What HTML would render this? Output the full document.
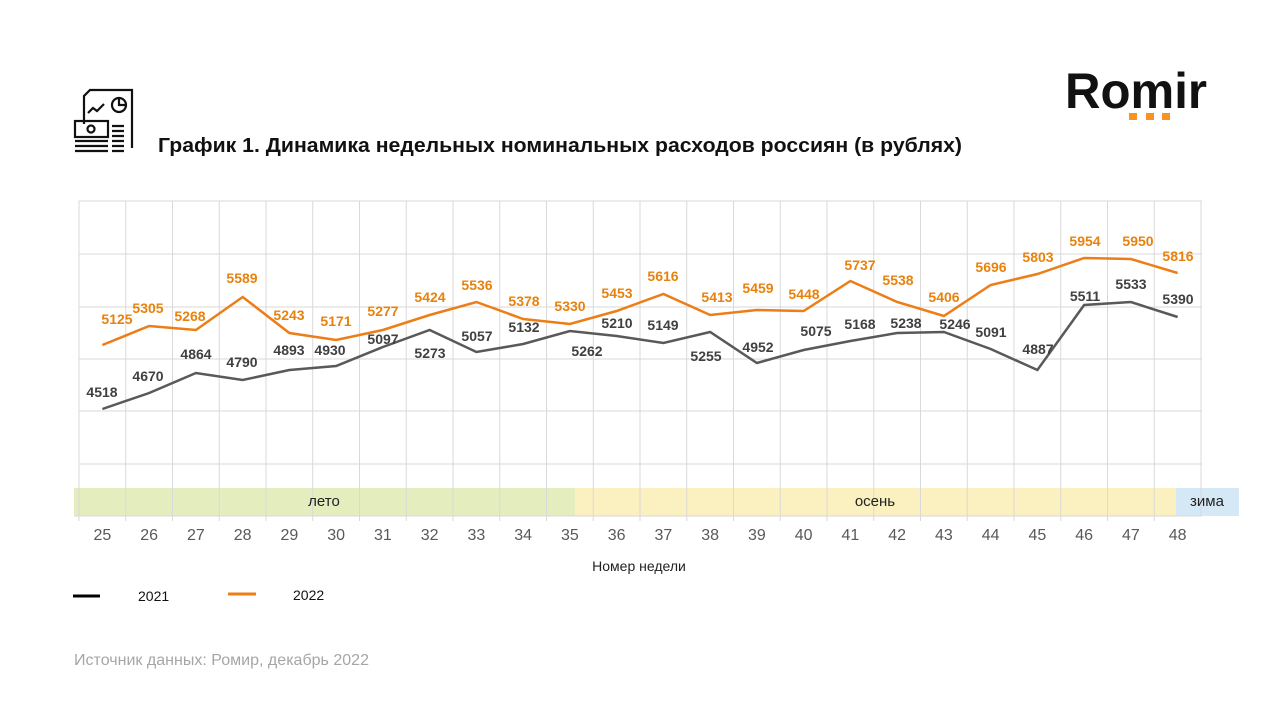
<!DOCTYPE html>
<html><head><meta charset="utf-8"><style>
body{margin:0;background:#fff;width:1280px;height:720px;overflow:hidden;font-family:"Liberation Sans",sans-serif;}
</style></head><body>
<svg width="1280" height="720" viewBox="0 0 1280 720" xmlns="http://www.w3.org/2000/svg" font-family="Liberation Sans, sans-serif">
<g fill="none" stroke="#111" stroke-width="2.2">
<path d="M84 124 V96 l6 -6 h42 v58"/>
<path d="M88 113 l5 -5 l4 3 l7 -7"/>
<circle cx="119" cy="105" r="7"/><path d="M119 98 v7 h7"/>
<rect x="75" y="121" width="33" height="16"/><circle cx="91" cy="129" r="3.5"/>
<path d="M75 141 h33 M75 146 h33 M75 151 h33"/>
<path d="M112 126 h12 M112 131 h12 M112 136 h12 M112 141 h12 M112 146 h12 M112 151 h12"/>
</g>
<text x="158" y="152" font-size="20" font-weight="bold" fill="#111" textLength="804" lengthAdjust="spacingAndGlyphs">График 1. Динамика недельных номинальных расходов россиян (в рублях)</text>
<text x="1065" y="108" font-size="50" font-weight="bold" fill="#111" textLength="142" lengthAdjust="spacingAndGlyphs">Romir</text>
<rect x="1129" y="113" width="8" height="7" fill="#f7931e"/><rect x="1146" y="113" width="8" height="7" fill="#f7931e"/><rect x="1162" y="113" width="8" height="7" fill="#f7931e"/>
<g stroke="#d9d9d9" stroke-width="1">
<line x1="79" y1="201" x2="1202" y2="201"/><line x1="79" y1="254" x2="1202" y2="254"/><line x1="79" y1="307" x2="1202" y2="307"/><line x1="79" y1="359" x2="1202" y2="359"/><line x1="79" y1="411" x2="1202" y2="411"/><line x1="79" y1="464" x2="1202" y2="464"/>
</g>
<rect x="74" y="488" width="501" height="28" fill="#e3edbd"/>
<rect x="575" y="488" width="601" height="28" fill="#faf0c0"/>
<rect x="1176" y="488" width="63" height="28" fill="#d5e8f6"/>
<g stroke="#d9d9d9" stroke-width="1" id="v"></g>
<g font-size="15" fill="#222" text-anchor="middle"><text x="324" y="506">лето</text><text x="875" y="506">осень</text><text x="1207" y="506">зима</text></g>
<line x1="74" y1="516" x2="1202" y2="516" stroke="#d9d9d9"/>
<g id="xl" font-size="16" fill="#595959" text-anchor="middle"></g>
<text x="639" y="571" font-size="14" fill="#222" text-anchor="middle">Номер недели</text>
<polyline id="l21" fill="none" stroke="#595959" stroke-width="2.5"/>
<polyline id="l22" fill="none" stroke="#ed7d16" stroke-width="2.5"/>
<g id="lab" font-size="14" font-weight="bold" text-anchor="middle"></g>
<line x1="73" y1="596" x2="100" y2="596" stroke="#000" stroke-width="3"/>
<text x="138" y="601" font-size="14" fill="#111">2021</text>
<line x1="228" y1="594" x2="256" y2="594" stroke="#ed7d16" stroke-width="3"/>
<text x="293" y="600" font-size="14" fill="#111">2022</text>
<text x="74" y="665" font-size="16" fill="#a6a6a6" textLength="295" lengthAdjust="spacingAndGlyphs">Источник данных: Ромир, декабрь 2022</text>
</svg>
<script>
const ns="http://www.w3.org/2000/svg";
const X=i=>102.4+i*46.75;
let v=document.getElementById('v'),xl=document.getElementById('xl');
for(let i=0;i<=24;i++){let l=document.createElementNS(ns,'line');let x=79+i*46.75;l.setAttribute('x1',x);l.setAttribute('x2',x);l.setAttribute('y1',201);l.setAttribute('y2',i==24?516:521);v.appendChild(l);}
for(let i=0;i<24;i++){let t=document.createElementNS(ns,'text');t.setAttribute('x',X(i));t.setAttribute('y',540);t.textContent=25+i;xl.appendChild(t);}
const y21=[409,393,373,380,370,366,347,330,352,344,331,336,343,332,363,350,341,333,332,349,370,305,302,317];
const y22=[345,326,330,297,333,340,330,315,302,319,324,311,294,315,310,311,281,302,316,285,274,258,259,273];
document.getElementById('l21').setAttribute('points',y21.map((y,i)=>X(i)+','+y).join(' '));
document.getElementById('l22').setAttribute('points',y22.map((y,i)=>X(i)+','+y).join(' '));
const L22=[[5125,117,319],[5305,148,308],[5268,190,316],[5589,242,278],[5243,289,315],[5171,336,321],[5277,383,311],[5424,430,297],[5536,477,285],[5378,524,301],[5330,570,306],[5453,617,293],[5616,663,276],[5413,717,297],[5459,758,288],[5448,804,294],[5737,860,265],[5538,898,280],[5406,944,297],[5696,991,267],[5803,1038,257],[5954,1085,241],[5950,1138,241],[5816,1178,256]];
const L21=[[4518,102,392],[4670,148,376],[4864,196,354],[4790,242,362],[4893,289,350],[4930,330,350],[5097,383,339],[5273,430,353],[5057,477,336],[5132,524,327],[5262,587,351],[5210,617,323],[5149,663,325],[5255,706,356],[4952,758,347],[5075,816,331],[5168,860,324],[5238,906,323],[5246,955,324],[5091,991,332],[4887,1038,349],[5511,1085,296],[5533,1131,284],[5390,1178,299]];
let lab=document.getElementById('lab');
function add(a,c){a.forEach(([v,x,y])=>{let t=document.createElementNS(ns,'text');t.setAttribute('x',x);t.setAttribute('y',y+5);t.setAttribute('fill',c);t.textContent=v;lab.appendChild(t);});}
add(L22,'#e8820c');add(L21,'#404040');
</script>
</body></html>
